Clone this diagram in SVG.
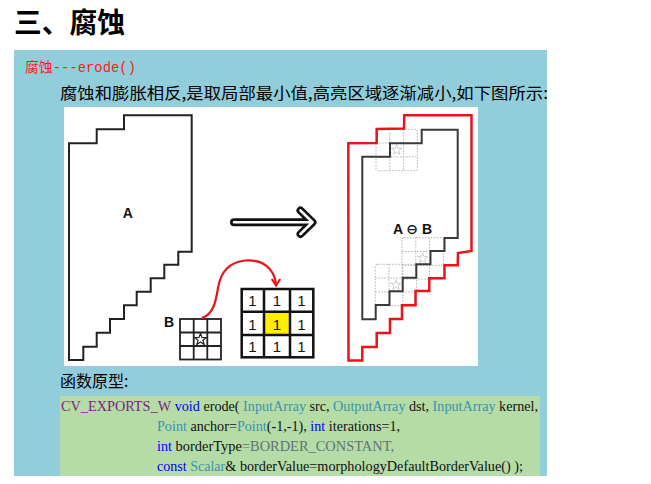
<svg xmlns="http://www.w3.org/2000/svg" width="651" height="484" viewBox="0 0 651 484">
<style>
.cjk{font-family:"Noto Sans CJK SC",sans-serif}
.lbl{font-family:"Liberation Sans","DejaVu Sans",sans-serif;font-weight:bold;font-size:14px;fill:#111}
.code{font-family:"Liberation Serif",serif;font-size:14.5px;fill:#111}
.kw{fill:#0000ee}
.ty{fill:#3b93ad}
.mac{fill:#7a1f84}
.cst{fill:#5e7474}
.dk{fill:none;stroke:#222;stroke-width:2}
.rd{fill:none;stroke:#e8141c;stroke-width:2.5;stroke-linejoin:miter}
.dot{fill:none;stroke:#b0b0b0;stroke-width:1;stroke-dasharray:1.5 1.5}
.one{font-family:"Liberation Sans",sans-serif;font-size:15px;fill:#111;text-anchor:middle}
</style>
<defs>
<polygon id="star" points="0,-6 1.41,-1.94 5.71,-1.85 2.28,0.74 3.53,4.85 0,2.4 -3.53,4.85 -2.28,0.74 -5.71,-1.85 -1.41,-1.94"/>
<g id="kgrid">
<rect x="0" y="0" width="41.4" height="41.4" rx="2" class="dot"/>
<path d="M13.8,0V41.4M27.6,0V41.4M0,13.8H41.4M0,27.6H41.4" class="dot"/>
<use href="#star" transform="translate(20.7,20.7) scale(0.9)" fill="none" stroke="#c8c8c8" stroke-width="1"/>
</g>
</defs>
<rect width="651" height="484" fill="#fff"/>
<g id="title">
<text x="14" y="33" class="cjk" font-size="28" font-weight="bold" fill="#000" textLength="111" lengthAdjust="spacingAndGlyphs">三、腐蚀</text>
</g>
<g id="panel">
<rect x="14" y="50" width="533" height="426" fill="#92cddc"/>
<text x="25" y="72" font-family="Liberation Mono,'Noto Sans CJK SC',monospace" font-size="14" fill="#ff1a1a" textLength="111" lengthAdjust="spacingAndGlyphs">腐蚀---erode()</text>
<text x="60" y="99" class="cjk" font-size="16" fill="#000" textLength="488" lengthAdjust="spacingAndGlyphs">腐蚀和膨胀相反,是取局部最小值,高亮区域逐渐减小,如下图所示:</text>
</g>
<g id="figure">
<rect x="64" y="107" width="414" height="259" fill="#fff"/>
</g>
<g id="shapeA">
<polygon class="dk" points="124,115.3 191.7,115.3 191.7,251.7 178.3,251.7 178.3,264.7 164.3,264.7 164.3,278.3 150.7,278.3 150.7,291.7 136.7,291.7 136.7,305.3 124,305.3 124,319 110,319 110,332.7 96.7,332.7 96.7,346.7 83.3,346.7 83.3,360 69,360 69,143.3 96.7,143.3 96.7,129.3 124,129.3"/>
<text x="127.7" y="218.3" class="lbl" text-anchor="middle">A</text>
</g>
<g id="kernelB">
<text x="169" y="326.5" class="lbl" text-anchor="middle">B</text>
<rect x="180" y="319" width="41" height="40.5" fill="none" stroke="#222" stroke-width="1.8"/>
<path d="M193.7,319V359.5M207.3,319V359.5M180,332.5H221M180,346H221" fill="none" stroke="#222" stroke-width="1.8"/>
<use href="#star" transform="translate(200.5,339.5) scale(1.05)" fill="#fff" stroke="#222" stroke-width="1.1"/>
</g>
<g id="kernelMatrix">
<rect x="264.5" y="312" width="25" height="23" fill="#ffee00"/>
<rect x="241.7" y="289" width="71.6" height="68.3" fill="none" stroke="#111" stroke-width="2.5"/>
<path d="M264,289V357.3M290,289V357.3M241.7,311.7H313.3M241.7,335H313.3" fill="none" stroke="#111" stroke-width="2.5"/>
<text class="one" x="252.5" y="306">1</text><text class="one" x="277" y="306">1</text><text class="one" x="301.5" y="306">1</text>
<text class="one" x="252.5" y="330">1</text><text class="one" x="277" y="330">1</text><text class="one" x="301.5" y="330">1</text>
<text class="one" x="252.5" y="351.5">1</text><text class="one" x="277" y="351.5">1</text><text class="one" x="301.5" y="351.5">1</text>
</g>
<g id="result">
<use href="#kgrid" transform="translate(376,129.3)"/>
<use href="#kgrid" transform="translate(402,237.7)"/>
<use href="#kgrid" transform="translate(375.2,264.3)"/>
<polygon class="rd" points="404.3,115.3 471.5,115.3 471.5,251 458,253 457.7,265.3 444.5,265.3 444.5,278.3 429.3,278.3 429.3,291 415.5,291 415.5,305.3 402,305.3 402,319 390,319 390,333 376.7,333 376.7,347 362.3,347 362.3,360.5 348.5,360.5 348.3,143.3 376.7,143 376.7,129 404,128.5"/>
<polygon fill="none" stroke="#3a3a3a" stroke-width="2" points="421.7,129.8 457.7,129.8 457.7,238 444.5,238 444.5,251 430.5,251 430.5,264.3 416.3,264.3 416.3,277.8 402.7,277.8 402.7,291.3 389.5,291.3 389.5,305 375.7,305 375.7,319.3 362.3,319.3 362.3,156.7 390,156.7 390,143.3 421.7,143.3"/>
<text x="412.5" y="234" class="lbl" text-anchor="middle">A ⊖ B</text>
</g>
<g id="connectors">
<path d="M234,222.3H312M300.5,210.5L312.5,222.3L300.5,234" fill="none" stroke="#111" stroke-width="8" stroke-linecap="round" stroke-linejoin="round"/>
<path d="M234,222.3H312M300.5,210.5L312.5,222.3L300.5,234" fill="none" stroke="#fff" stroke-width="2.6" stroke-linecap="round" stroke-linejoin="round"/>
<path d="M202,318 C214,314 216,300 218,288 C221,270 230,262 245,260.5 C262,259 274,268 276,284" fill="none" stroke="#e8141c" stroke-width="2.2"/>
<path d="M271.8,279 L276,285.5 L280.2,279" fill="none" stroke="#e8141c" stroke-width="2.2" stroke-linejoin="miter"/>
</g>
<g id="prototype">
<text x="60" y="386.5" class="cjk" font-size="16" fill="#000">函数原型:</text>
<rect x="60" y="396" width="480" height="80" fill="#b5dba6"/>
<text class="code mac" x="61" y="411" textLength="110.1" lengthAdjust="spacingAndGlyphs">CV_EXPORTS_W</text>
<text class="code kw" x="174.7" y="411" textLength="25.2" lengthAdjust="spacingAndGlyphs">void</text>
<text class="code" x="203.4" y="411" textLength="36.2" lengthAdjust="spacingAndGlyphs">erode(</text>
<text class="code ty" x="243.1" y="411" textLength="62.9" lengthAdjust="spacingAndGlyphs">InputArray</text>
<text class="code" x="309.5" y="411" textLength="20" lengthAdjust="spacingAndGlyphs">src,</text>
<text class="code ty" x="333.1" y="411" textLength="72.4" lengthAdjust="spacingAndGlyphs">OutputArray</text>
<text class="code" x="409" y="411" textLength="20.1" lengthAdjust="spacingAndGlyphs">dst,</text>
<text class="code ty" x="432.6" y="411" textLength="62.9" lengthAdjust="spacingAndGlyphs">InputArray</text>
<text class="code" x="499.1" y="411" textLength="38.9" lengthAdjust="spacingAndGlyphs">kernel,</text>
<text class="code ty" x="157" y="431" textLength="29.9" lengthAdjust="spacingAndGlyphs">Point</text>
<text class="code" x="190.4" y="431" textLength="46.5" lengthAdjust="spacingAndGlyphs">anchor=</text>
<text class="code ty" x="236.9" y="431" textLength="29.9" lengthAdjust="spacingAndGlyphs">Point</text>
<text class="code" x="266.8" y="431" textLength="40" lengthAdjust="spacingAndGlyphs">(-1,-1),</text>
<text class="code kw" x="310.3" y="431" textLength="14.9" lengthAdjust="spacingAndGlyphs">int</text>
<text class="code" x="328.8" y="431" textLength="71.2" lengthAdjust="spacingAndGlyphs">iterations=1,</text>
<text class="code kw" x="157" y="451" textLength="15" lengthAdjust="spacingAndGlyphs">int</text>
<text class="code" x="175.6" y="451" textLength="66.3" lengthAdjust="spacingAndGlyphs">borderType</text>
<text class="code cst" x="241.9" y="451" textLength="152.1" lengthAdjust="spacingAndGlyphs">=BORDER_CONSTANT,</text>
<text class="code kw" x="157" y="470.5" textLength="29.7" lengthAdjust="spacingAndGlyphs">const</text>
<text class="code ty" x="190.2" y="470.5" textLength="35.1" lengthAdjust="spacingAndGlyphs">Scalar</text>
<text class="code" x="225.3" y="470.5" textLength="297.7" lengthAdjust="spacingAndGlyphs">&amp; borderValue=morphologyDefaultBorderValue() );</text>
</g>
</svg>
